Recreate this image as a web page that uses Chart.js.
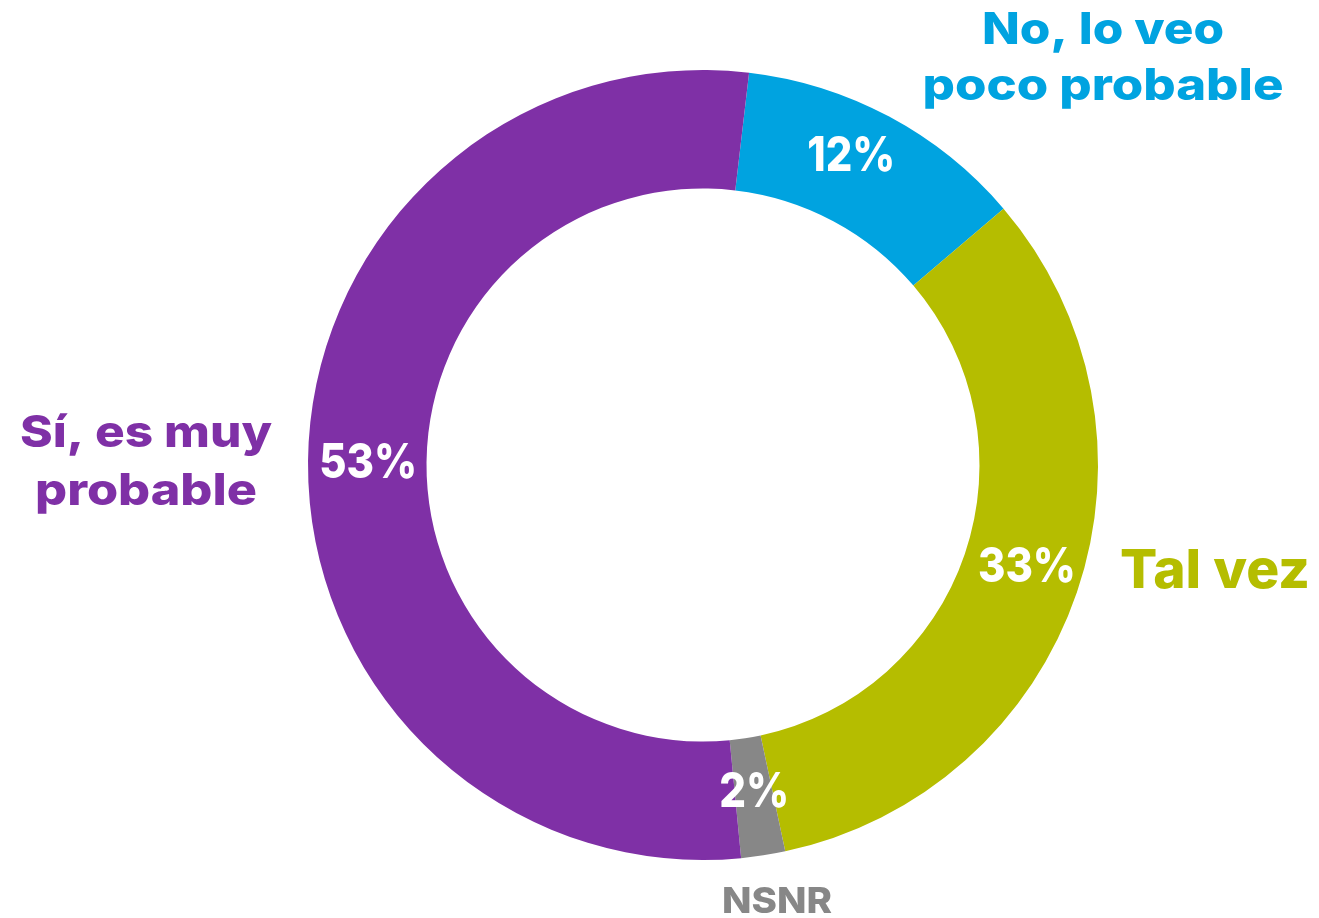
<!DOCTYPE html>
<html><head><meta charset="utf-8">
<script src="https://cdn.jsdelivr.net/npm/chart.js@4.4.1/dist/chart.umd.min.js"></script>
<style>html,body{margin:0;padding:0;background:#fff;overflow:hidden}#wrap{width:1319px;height:918px;position:relative}</style>
</head><body><div id="wrap"><canvas id="c"></canvas></div>
<script>
const categories = ['No, lo veo poco probable', 'Tal vez', 'NSNR', 'Sí, es muy probable'];
const labelLines = [['No, lo veo', 'poco probable'], ['Tal vez'], ['NSNR'], ['Sí, es muy', 'probable']];
const values = [11.9, 32.9, 1.8, 53.4];
const percentLabels = ['12%', '33%', '2%', '53%'];
const colors = ['#00A3E0', '#B5BD00', '#878787', '#7F30A6'];

const FONT = 'Inter, "Open Sans", sans-serif';

// outer label layout: center x, first baseline, line gap, font size, target widths per line
const outerLayout = [
  { x: 1103, y: 44, gap: 56, size: 44, widths: [242, 361] },
  { x: 1215, y: 588, gap: 0, size: 54, widths: [190] },
  { x: 777, y: 913, gap: 0, size: 36, widths: [110] },
  { x: 146, y: 447, gap: 58, size: 44, widths: [252, 222] }
];
// small nudges of the percentage labels from the arc centre
const pctNudge = [[-10, -12], [6, -5], [0, -4], [1, 2]];
const pctW = [88, 98, 70, 98];

function drawFit(ctx, text, cx, y, targetW) {
  const w = ctx.measureText(text).width;
  const sx = targetW ? targetW / w : 1;
  ctx.save();
  ctx.translate(cx, y);
  ctx.scale(sx, 1);
  ctx.fillText(text, 0, 0);
  ctx.restore();
}

const labelPlugin = {
  id: 'labels',
  afterDatasetsDraw(chart) {
    const ctx = chart.ctx;
    const meta = chart.getDatasetMeta(0);
    ctx.save();
    ctx.textAlign = 'center';
    ctx.fillStyle = '#ffffff';
    ctx.font = '800 48px ' + FONT;
    ctx.textBaseline = 'middle';
    meta.data.forEach((arc, i) => {
      const p = arc.tooltipPosition();
      drawFit(ctx, percentLabels[i], p.x + pctNudge[i][0], p.y + pctNudge[i][1], pctW[i]);
    });
    ctx.textBaseline = 'alphabetic';
    labelLines.forEach((lines, i) => {
      const L = outerLayout[i];
      ctx.fillStyle = colors[i];
      ctx.font = '800 ' + L.size + 'px ' + FONT;
      lines.forEach((t, j) => drawFit(ctx, t, L.x, L.y + j * L.gap, L.widths[j]));
    });
    ctx.restore();
  }
};

new Chart(document.getElementById('c'), {
  type: 'doughnut',
  data: {
    labels: categories,
    datasets: [{ data: values, backgroundColor: colors, borderWidth: 0, hoverOffset: 0 }]
  },
  options: {
    responsive: true,
    maintainAspectRatio: false,
    animation: false,
    rotation: 6.7,
    cutout: '70%',
    layout: { padding: { left: 308, right: 221, top: 70, bottom: 58 } },
    plugins: { legend: { display: false }, tooltip: { enabled: false } },
    events: []
  },
  plugins: [labelPlugin]
});
</script>
</body></html>
